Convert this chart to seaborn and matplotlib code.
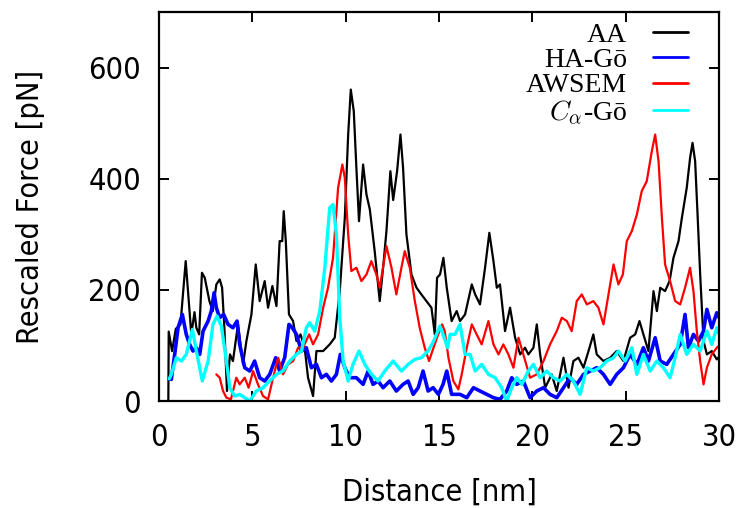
import numpy as np
import pandas as pd
import matplotlib
matplotlib.use("Agg")
import matplotlib.pyplot as plt
from matplotlib import font_manager
import seaborn as sns

# values (distance in nm, force in pN)
aa_dist = [
    0.50, 0.52, 0.70, 0.90, 1.15, 1.43, 1.73, 1.90, 2.00, 2.15,
    2.30, 2.45, 2.70, 2.88, 3.07, 3.25, 3.38, 3.50, 3.64, 3.80,
    3.96, 4.23, 4.50, 4.68, 4.95, 5.18, 5.39, 5.66, 5.84, 6.07,
    6.29, 6.46, 6.60, 6.68, 6.79, 6.96, 7.18, 7.36, 7.58, 7.80,
    7.98, 8.25, 8.43, 8.79, 9.14, 9.41, 9.68, 9.95, 10.13, 10.27,
    10.43, 10.57, 10.71, 10.93, 11.11, 11.29, 11.55, 11.82, 12.00, 12.18,
    12.39, 12.54, 12.75, 12.93, 13.07, 13.25, 13.52, 13.79, 14.05, 14.32,
    14.59, 14.77, 14.89, 15.05, 15.23, 15.41, 15.67, 15.94, 16.12, 16.39,
    16.75, 16.93, 17.19, 17.46, 17.69, 17.91, 18.09, 18.26, 18.53, 18.80,
    19.07, 19.34, 19.60, 19.78, 20.05, 20.23, 20.41, 20.68, 21.03, 21.30,
    21.66, 21.93, 22.19, 22.46, 22.73, 23.00, 23.26, 23.44, 23.80, 24.16,
    24.51, 24.87, 25.23, 25.50, 25.73, 25.94, 26.21, 26.48, 26.66, 26.84,
    27.10, 27.34, 27.55, 27.82, 28.00, 28.26, 28.44, 28.57, 28.71, 28.84,
    28.98, 29.16, 29.34, 29.60, 29.87, 30.00,
]
aa_force = [
    0, 125, 90, 130, 138, 252, 120, 160, 132, 120,
    231, 222, 180, 162, 210, 219, 204, 132, 18, 84,
    72, 138, 66, 108, 156, 246, 180, 216, 168, 207,
    171, 288, 288, 342, 288, 156, 144, 108, 120, 96,
    42, 9, 90, 90, 102, 114, 198, 330, 480, 561,
    522, 420, 324, 426, 372, 345, 270, 180, 240, 306,
    414, 362, 414, 480, 420, 300, 228, 204, 192, 180,
    168, 120, 222, 228, 258, 204, 144, 162, 144, 156,
    210, 192, 174, 240, 303, 252, 204, 210, 126, 168,
    114, 84, 96, 84, 96, 138, 84, 24, 48, 18,
    78, 24, 72, 78, 60, 90, 120, 84, 72, 78,
    90, 72, 114, 120, 144, 120, 90, 198, 162, 204,
    198, 216, 258, 288, 330, 384, 438, 465, 432, 336,
    228, 108, 84, 90, 75, 80,
]

ha_dist = [
    0.55, 0.66, 0.84, 1.02, 1.25, 1.46, 1.64, 1.82, 2.00, 2.18,
    2.36, 2.63, 2.80, 2.95, 3.07, 3.25, 3.46, 3.70, 3.96, 4.18,
    4.32, 4.59, 4.86, 5.12, 5.39, 5.66, 5.93, 6.25, 6.46, 6.73,
    6.96, 7.14, 7.36, 7.63, 7.89, 8.16, 8.43, 8.70, 8.96, 9.23,
    9.50, 9.71, 9.95, 10.21, 10.57, 10.93, 11.20, 11.46, 11.73, 12.00,
    12.36, 12.71, 13.07, 13.34, 13.61, 13.88, 14.14, 14.41, 14.68, 14.96,
    15.21, 15.41, 15.67, 16.12, 16.48, 16.84, 17.19, 17.55, 17.91, 18.26,
    18.62, 18.89, 19.16, 19.51, 19.87, 20.23, 20.59, 20.94, 21.30, 21.66,
    22.01, 22.37, 22.73, 23.09, 23.44, 23.80, 24.16, 24.51, 24.87, 25.23,
    25.59, 25.94, 26.21, 26.57, 26.84, 27.19, 27.55, 27.91, 28.17, 28.35,
    28.62, 28.89, 29.16, 29.34, 29.60, 29.87, 30.00,
]
ha_force = [
    40, 39, 84, 132, 156, 120, 102, 90, 96, 84,
    126, 144, 162, 195, 168, 150, 156, 138, 132, 144,
    102, 60, 54, 72, 42, 36, 48, 78, 54, 78,
    138, 132, 120, 90, 96, 60, 66, 42, 48, 36,
    48, 84, 60, 42, 42, 30, 54, 30, 36, 24,
    36, 18, 30, 36, 12, 24, 54, 18, 24, 12,
    30, 54, 12, 12, 6, 24, 18, 12, 6, 3,
    18, 42, 30, 36, 6, 18, 24, 12, 6, 24,
    42, 30, 48, 54, 60, 48, 30, 48, 60, 84,
    66, 96, 72, 114, 72, 66, 84, 102, 156, 96,
    120, 108, 126, 165, 132, 159, 150,
]

aw_dist = [
    3.07, 3.25, 3.43, 3.61, 3.85, 4.14, 4.32, 4.59, 4.80, 5.04,
    5.30, 5.57, 5.84, 6.11, 6.38, 6.64, 6.91, 7.18, 7.45, 7.71,
    8.04, 8.25, 8.52, 8.79, 9.05, 9.32, 9.59, 9.82, 9.95, 10.13,
    10.30, 10.57, 10.84, 11.11, 11.37, 11.64, 11.82, 12.18, 12.45, 12.71,
    12.98, 13.16, 13.43, 13.70, 13.96, 14.23, 14.46, 14.70, 14.95, 15.16,
    15.30, 15.50, 15.76, 16.03, 16.21, 16.48, 16.75, 17.01, 17.28, 17.64,
    17.91, 18.18, 18.44, 18.71, 18.98, 19.25, 19.51, 19.87, 20.23, 20.59,
    20.94, 21.30, 21.57, 21.84, 22.10, 22.37, 22.64, 22.91, 23.26, 23.53,
    23.80, 24.07, 24.34, 24.60, 24.84, 25.05, 25.32, 25.59, 25.85, 26.12,
    26.39, 26.57, 26.75, 26.93, 27.10, 27.37, 27.64, 27.91, 28.17, 28.44,
    28.62, 28.80, 28.98, 29.16, 29.34, 29.60, 29.87, 30.00,
]
aw_force = [
    48, 42, 18, 6, 3, 42, 30, 42, 24, 54,
    30, 9, 3, 42, 78, 48, 66, 72, 96, 96,
    120, 102, 120, 168, 204, 258, 384, 426, 402, 300,
    234, 240, 216, 228, 252, 228, 204, 279, 240, 192,
    240, 270, 240, 180, 132, 96, 72, 96, 120, 138,
    126, 78, 36, 21, 48, 96, 138, 120, 102, 144,
    102, 84, 102, 84, 60, 114, 84, 42, 48, 72,
    102, 126, 150, 144, 126, 180, 192, 174, 180, 168,
    138, 192, 246, 210, 228, 288, 306, 336, 378, 396,
    450, 480, 432, 330, 246, 216, 180, 174, 204, 240,
    198, 126, 72, 30, 60, 84, 96, 100,
]

ca_dist = [
    0.55, 0.66, 0.93, 1.20, 1.46, 1.79, 2.00, 2.32, 2.63, 2.89,
    3.11, 3.34, 3.61, 3.79, 4.05, 4.32, 4.59, 4.86, 5.21, 5.57,
    5.93, 6.29, 6.64, 7.00, 7.36, 7.63, 7.89, 8.07, 8.34, 8.61,
    8.88, 9.14, 9.32, 9.50, 9.68, 9.86, 10.13, 10.39, 10.71, 11.02,
    11.38, 11.73, 12.09, 12.54, 12.98, 13.34, 13.70, 14.05, 14.41, 14.71,
    15.04, 15.21, 15.45, 15.59, 15.85, 16.12, 16.39, 16.66, 16.93, 17.28,
    17.64, 18.00, 18.35, 18.62, 18.89, 19.16, 19.43, 19.78, 20.05, 20.41,
    20.76, 21.12, 21.48, 21.84, 22.19, 22.55, 22.91, 23.26, 23.62, 23.98,
    24.34, 24.60, 24.96, 25.32, 25.59, 25.94, 26.30, 26.66, 27.01, 27.37,
    27.64, 27.91, 28.26, 28.62, 28.98, 29.34, 29.60, 29.87, 30.00,
]
ca_force = [
    40, 48, 78, 72, 84, 129, 90, 36, 72, 138,
    153, 135, 72, 24, 9, 12, 6, 0, 18, 24,
    36, 48, 54, 72, 84, 90, 132, 141, 126, 162,
    240, 348, 354, 300, 150, 72, 36, 66, 90, 66,
    48, 36, 54, 72, 54, 66, 75, 78, 90, 108,
    135, 120, 96, 120, 120, 138, 84, 84, 54, 66,
    48, 42, 24, 0, 24, 42, 30, 54, 66, 42,
    54, 42, 36, 48, 36, 12, 60, 54, 60, 72,
    78, 90, 72, 96, 48, 84, 54, 72, 60, 42,
    78, 120, 84, 102, 90, 126, 102, 132, 120,
]

labels = ["AA", "HA-G\u014d", "AWSEM", "$C_\\alpha$-G\u014d"]
colors = ["#000000", "#0000ff", "#ff0000", "#00ffff"]
widths = [1.6, 2.6, 1.6, 2.4]

sns.set_style("ticks")
plt.rcParams["font.family"] = ["DejaVu Sans"]
# use the condensed cut of DejaVu Sans if it is there, the reference font is narrow
if any(f.name == "DejaVu Sans" and f.stretch == "condensed" for f in font_manager.fontManager.ttflist):
    plt.rcParams["font.stretch"] = "condensed"
plt.rcParams["mathtext.fontset"] = "cm"
for k in ["text.color", "axes.labelcolor", "xtick.color", "ytick.color", "axes.edgecolor"]:
    plt.rcParams[k] = "black"

fig = plt.figure(figsize=(7.43, 5.08), dpi=100)
ax = fig.add_axes([0.214, 0.2106, 0.754, 0.765])

series = [(aa_dist, aa_force), (ha_dist, ha_force), (aw_dist, aw_force), (ca_dist, ca_force)]
for (d, f), lab, col, lw in zip(series, labels, colors, widths):
    df = pd.DataFrame({"dist": d, "force": f})
    sns.lineplot(data=df, x="dist", y="force", color=col, linewidth=lw,
                 label=lab, ax=ax, sort=False, estimator=None)

ax.set_xlim(0, 30)
ax.set_ylim(0, 700)
ax.set_xticks([0, 5, 10, 15, 20, 25, 30])
ax.set_yticks([0, 200, 400, 600])
ax.tick_params(direction="in", length=7, width=1.4, top=True, right=True, labelsize=22)
ax.tick_params(axis="x", pad=16)
ax.tick_params(axis="y", pad=13)
for s in ax.spines.values():
    s.set_linewidth(1.6)
    s.set_visible(True)

ax.set_xlabel("Distance [nm]", fontsize=22, labelpad=18)
ax.set_ylabel("Rescaled Force [pN]", fontsize=22, labelpad=31)

leg = ax.legend(loc="upper right", bbox_to_anchor=(0.944, 0.975), frameon=False,
                markerfirst=False, handlelength=1.25, handletextpad=0.95,
                labelspacing=0.0, borderaxespad=0, borderpad=0,
                prop={"family": "Liberation Serif", "size": 20})
for t in leg.get_texts():
    t.set_ha("right")
leg._legend_box.align = "right"
for h in leg.legend_handles:
    h.set_linewidth(2)

fig.savefig("out.png", dpi=100)
